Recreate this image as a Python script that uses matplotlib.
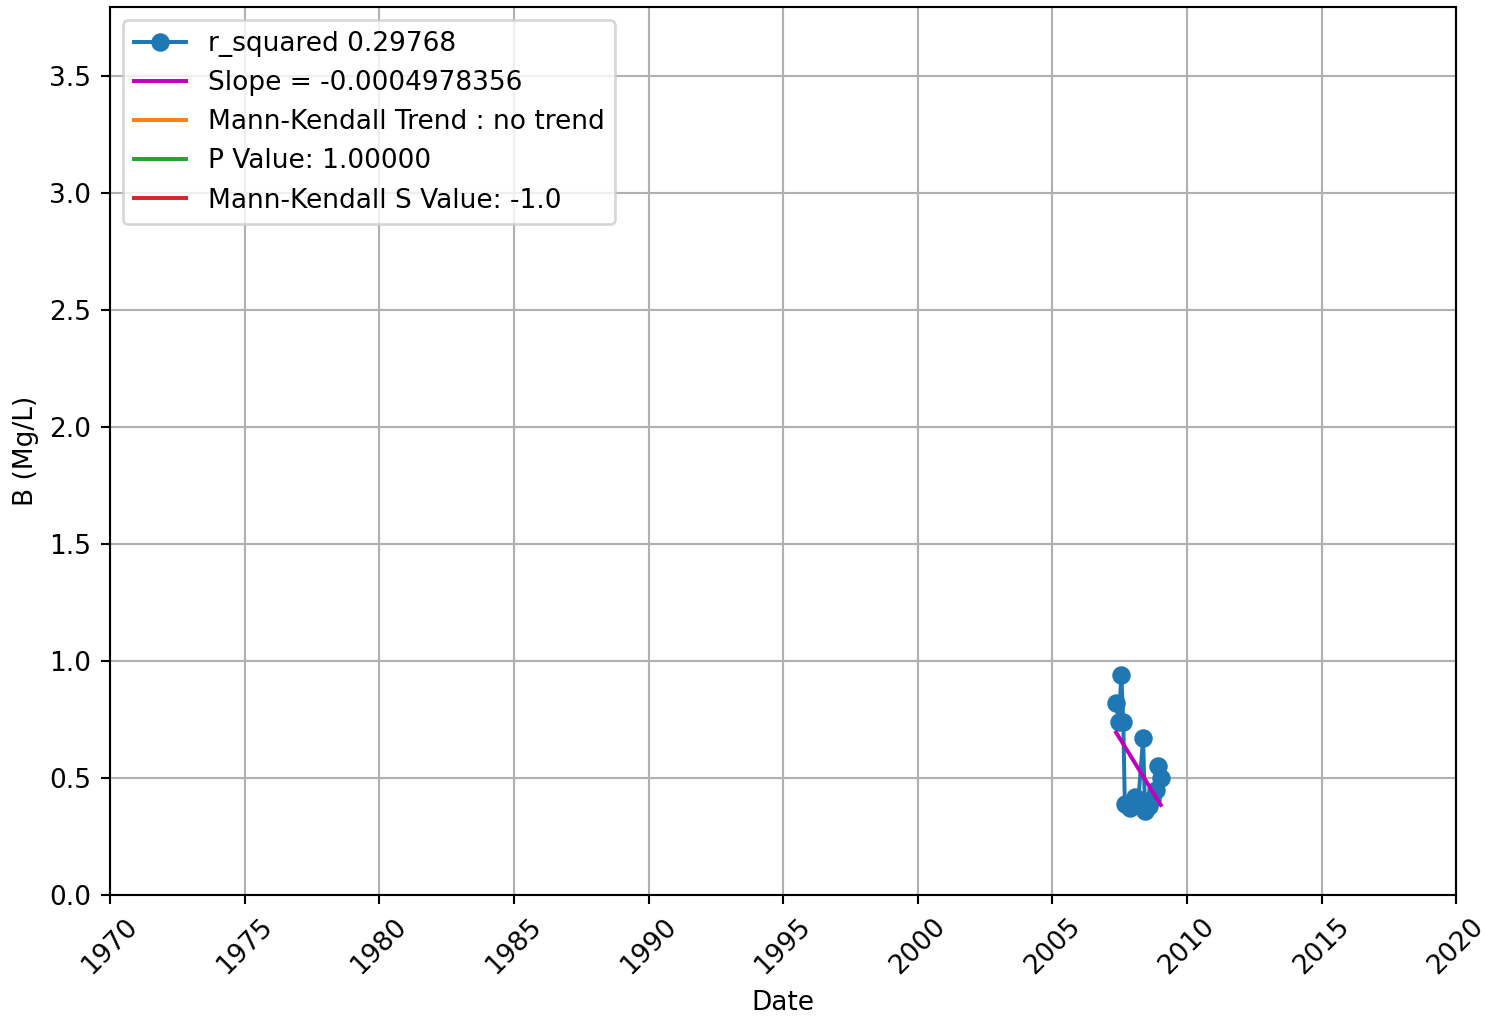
import datetime as dt
import numpy as np
import matplotlib as mpl
mpl.use('Agg')
import matplotlib.pyplot as plt
import matplotlib.dates as mdates

# sample dates and B concentrations (Mg/L)
dates = [dt.date(2007, 5, 15), dt.date(2007, 6, 20), dt.date(2007, 7, 25),
         dt.date(2007, 8, 20), dt.date(2007, 9, 10), dt.date(2007, 11, 15),
         dt.date(2008, 1, 20), dt.date(2008, 3, 10), dt.date(2008, 5, 15),
         dt.date(2008, 6, 10), dt.date(2008, 8, 1), dt.date(2008, 9, 15),
         dt.date(2008, 11, 1), dt.date(2008, 12, 1), dt.date(2009, 1, 10)]
values = [0.82, 0.74, 0.94, 0.74, 0.39, 0.37, 0.42, 0.40, 0.67, 0.36,
          0.38, 0.41, 0.45, 0.55, 0.50]

label_r2 = 'r_squared 0.29768'
label_slope = 'Slope = -0.0004978356'
label_trend = 'Mann-Kendall Trend : no trend'
label_p = 'P Value: 1.00000'
label_s = 'Mann-Kendall S Value: -1.0'

x = mdates.date2num(dates)
coef = np.polyfit(x, values, 1)
fit_x = np.array([x[0], x[-1]])
fit_y = np.polyval(coef, fit_x)

fig = plt.figure(figsize=(7.821, 5.353), dpi=190)
ax = fig.add_axes([0.074, 0.12, 0.906, 0.873])
ax.plot(dates, values, '-o', color='tab:blue', label=label_r2)
ax.plot(mdates.num2date(fit_x), fit_y, color='m', label=label_slope)
ax.plot([], [], color='tab:orange', label=label_trend)
ax.plot([], [], color='tab:green', label=label_p)
ax.plot([], [], color='tab:red', label=label_s)

ax.set_xlim(dt.date(1970, 1, 1), dt.date(2020, 1, 1))
ax.set_ylim(0, 3.795)
ax.xaxis.set_major_locator(mdates.YearLocator(5))
ax.xaxis.set_major_formatter(mdates.DateFormatter('%Y'))
plt.setp(ax.get_xticklabels(), rotation=45)
ax.set_xlabel('Date')
ax.set_ylabel('B (Mg/L)')
ax.grid(True)
ax.legend(loc='upper left')

fig.savefig('out.png')
